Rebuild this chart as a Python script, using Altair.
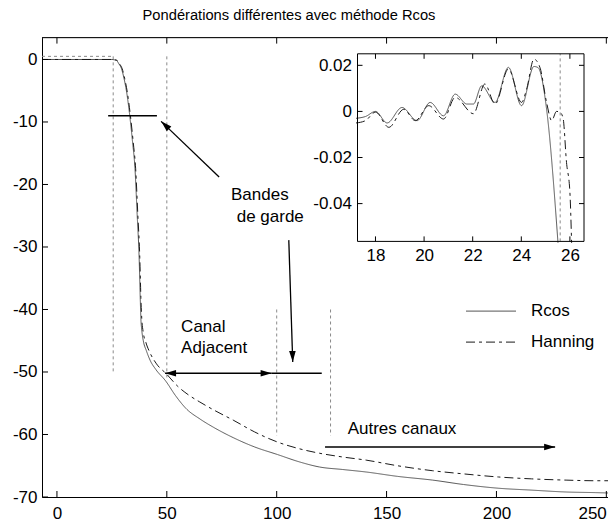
import math
import altair as alt
import pandas as pd

FONT = "Liberation Sans"

series_names = ["Rcos", "Hanning"]

# ---- main curves (dB) ----
rcos_x = [-6.8, 25.0, 26.0, 27.1, 28.2, 29.4, 30.5, 31.7, 33.2, 34.4, 35.5, 36.5, 37.4, 37.9, 38.2,
          38.6, 39.3, 40.7, 42.5, 45.0, 49.4, 54.0, 58.9, 65.0, 72.0, 80.2, 90.0, 100.3, 110.5,
          119.5, 130.0, 140.7, 155.0, 171.0, 185.0, 201.0, 216.0, 231.7, 245.0, 254.4]
rcos_y = [0, 0, -0.05, -0.15, -0.7, -1.5, -3.0, -5.2, -9.2, -13.2, -17.4, -24.8, -31.7, -38.1, -41.5,
          -43.3, -45.0, -46.6, -48.2, -49.6, -51.4, -53.8, -55.9, -57.5, -59.0, -60.5, -62.0, -63.2, -64.4,
          -65.2, -65.6, -66.0, -66.7, -67.3, -68.0, -68.6, -68.9, -69.2, -69.3, -69.4]

hann_x = [-6.8, 25.3, 26.3, 27.4, 28.5, 29.7, 30.8, 32.0, 33.5, 34.7, 35.8, 36.8, 37.7, 38.2, 38.6,
          39.2, 40.5, 42.3, 45.3, 49.8, 55.0, 60.0, 65.0, 72.0, 80.2, 90.0, 100.3, 110.5, 119.5,
          130.0, 140.7, 155.0, 171.0, 185.0, 201.0, 216.0, 231.7, 245.0, 254.4]
hann_y = [0, 0, -0.05, -0.15, -0.7, -1.5, -3.0, -5.2, -9.2, -13.2, -17.4, -24.8, -31.7, -38.1, -41.5,
          -43.5, -45.3, -46.9, -48.7, -50.3, -52.3, -53.7, -54.8, -56.2, -57.7, -59.6, -61.2, -62.3, -63.0,
          -63.6, -64.1, -65.0, -65.8, -66.3, -66.8, -67.1, -67.3, -67.4, -67.4]

# ---- inset curves ----
inset_rcos_x = [17.2, 17.59, 18.0, 18.48, 19.09, 19.71, 20.25, 20.8, 21.28, 21.76, 22.03, 22.37, 22.92,
                23.47, 24.01, 24.52, 24.69, 25.04, 25.51]
inset_rcos_y = [-0.003, -0.0022, 0.0, -0.005, 0.0017, -0.004, 0.0039, -0.0019, 0.0075, 0.0032, 0.0032,
                0.0111, 0.0039, 0.0191, 0.0025, 0.0195, 0.019, 0.001, -0.057]
inset_hann_x = [17.2, 17.59, 18.0, 18.55, 19.16, 19.64, 20.19, 20.8, 21.28, 22.03, 22.5, 22.92, 23.47,
                24.01, 24.22, 24.52, 24.77, 25.04, 25.25, 25.45, 25.59, 25.72, 25.86, 26.0, 26.07]
inset_hann_y = [-0.005, -0.004, -0.0003, -0.0069, 0.0009, -0.004, 0.0025, -0.0033, 0.0061, -0.001, 0.0119,
                0.0032, 0.0184, 0.0039, 0.0097, 0.0227, 0.019, 0.0039, -0.004, 0.0, -0.0003, -0.003,
                -0.0221, -0.0351, -0.057]

x_ticks = [0, 50, 100, 150, 200, 250]
y_ticks = [0, -10, -20, -30, -40, -50, -60, -70]
inset_x_ticks = [18, 20, 22, 24, 26]
inset_y_ticks = [0.02, 0, -0.02, -0.04]

# template (gabarit) dashed segments
guide_x1 = [-6.8, 25.6, 50.0, 100.0, 124.5]
guide_y1 = [0.5, 0.5, 0.5, -40.0, -40.0]
guide_x2 = [25.6, 25.6, 50.0, 100.0, 124.5]
guide_y2 = [0.5, -50.2, -51.0, -60.2, -60.2]
inset_guide_x = [25.6]

# annotation segments
ann_x1 = [23.3, 73.8, 105.5, 49.2, 97.7, 122.0]
ann_y1 = [-9.0, -18.8, -28.9, -50.2, -50.2, -62.0]
ann_x2 = [45.5, 47.4, 107.3, 97.7, 120.5, 226.7]
ann_y2 = [-9.0, -9.9, -48.4, -50.2, -50.2, -62.0]

arrow_tip_x = [47.4, 107.3, 49.2, 97.7, 226.7]
arrow_tip_y = [-9.9, -48.4, -50.2, -50.2, -62.0]
arrow_tail_x = [73.8, 105.5, 97.7, 49.2, 122.0]
arrow_tail_y = [-18.8, -28.9, -50.2, -50.2, -62.0]

label_text = ["Bandes", "de garde", "Canal", "Adjacent", "Autres canaux"]
label_x = [79.2, 81.8, 56.5, 56.5, 132.3]
label_y = [-21.7, -25.2, -42.8, -46.2, -59.2]

title_text = "Pondérations différentes avec méthode Rcos"

# ---- layout ----
W, H = 566, 459.4
X_DOM = [-6.8, 250.76]
Y_DOM = [-70, 3.5]
IX_DOM = [17.26, 26.58]
IY_DOM = [-0.0564, 0.025]
IX_RANGE = [315.5, 542.0]
IY_RANGE = [203.8, 16.2]

sx = W / (X_DOM[1] - X_DOM[0])
sy = H / (Y_DOM[1] - Y_DOM[0])
isx = (IX_RANGE[1] - IX_RANGE[0]) / (IX_DOM[1] - IX_DOM[0])
isy = (IY_RANGE[0] - IY_RANGE[1]) / (IY_DOM[1] - IY_DOM[0])

xs = alt.Scale(domain=X_DOM, nice=False, zero=False)
ys = alt.Scale(domain=Y_DOM, nice=False, zero=False)
ixs = alt.Scale(domain=IX_DOM, range=IX_RANGE, nice=False, zero=False)
iys = alt.Scale(domain=IY_DOM, range=IY_RANGE, nice=False, zero=False)

color_scale = alt.Scale(domain=series_names, range=["#555555", "#1a1a1a"])
dash_scale = alt.Scale(domain=series_names, range=[[1, 0], [9, 4, 3, 4]])

legend = alt.Legend(orient="none", legendX=436, legendY=260.5, title=None,
                    symbolType="M-2,0H2", symbolSize=625, symbolStrokeWidth=1,
                    labelFont=FONT, labelFontSize=17, labelColor="black",
                    labelOffset=27, rowPadding=10, padding=0)

# ---- data frames ----
df_main = pd.concat([
    pd.DataFrame({"x": rcos_x, "y": rcos_y, "series": "Rcos"}),
    pd.DataFrame({"x": hann_x, "y": hann_y, "series": "Hanning"}),
])
df_inset = pd.concat([
    pd.DataFrame({"x": inset_rcos_x, "y": inset_rcos_y, "series": "Rcos"}),
    pd.DataFrame({"x": inset_hann_x, "y": inset_hann_y, "series": "Hanning"}),
])
df_guides = pd.DataFrame({"x": guide_x1, "y": guide_y1, "x2": guide_x2, "y2": guide_y2})
df_ann = pd.DataFrame({"x": ann_x1, "y": ann_y1, "x2": ann_x2, "y2": ann_y2})

angles = []
for tx, ty, fx, fy in zip(arrow_tip_x, arrow_tip_y, arrow_tail_x, arrow_tail_y):
    dxp = (tx - fx) * sx
    dyp = -(ty - fy) * sy
    angles.append(math.degrees(math.atan2(dxp, -dyp)) % 360)
df_arrows = pd.DataFrame({"x": arrow_tip_x, "y": arrow_tip_y, "angle": angles})
df_labels = pd.DataFrame({"x": label_x, "y": label_y, "text": label_text})

# main frame: ticks (inward) + top edge
tlx, tly = 6 / sx, 6 / sy
frame_rows = []
for v in x_ticks:
    frame_rows.append({"x": v, "x2": v, "y": Y_DOM[0], "y2": Y_DOM[0] + tly})
    frame_rows.append({"x": v, "x2": v, "y": Y_DOM[1], "y2": Y_DOM[1] - tly})
for v in y_ticks:
    frame_rows.append({"x": X_DOM[0], "x2": X_DOM[0] + tlx, "y": v, "y2": v})
frame_rows.append({"x": X_DOM[0], "x2": X_DOM[1], "y": Y_DOM[1], "y2": Y_DOM[1]})
df_frame = pd.DataFrame(frame_rows)

# inset ticks (inward on all four sides)
itx, ity = 5 / isx, 5 / isy
iframe_rows = []
for v in inset_x_ticks:
    iframe_rows.append({"x": v, "x2": v, "y": IY_DOM[0], "y2": IY_DOM[0] + ity})
    iframe_rows.append({"x": v, "x2": v, "y": IY_DOM[1], "y2": IY_DOM[1] - ity})
for v in inset_y_ticks:
    iframe_rows.append({"x": IX_DOM[0], "x2": IX_DOM[0] + itx, "y": v, "y2": v})
    iframe_rows.append({"x": IX_DOM[1], "x2": IX_DOM[1] - itx, "y": v, "y2": v})
df_iframe = pd.DataFrame(iframe_rows)
df_ibox = pd.DataFrame({"x": [IX_DOM[0]], "x2": [IX_DOM[1]], "y": [IY_DOM[0]], "y2": [IY_DOM[1]]})
df_iguide = pd.DataFrame({"x": inset_guide_x, "y": [IY_DOM[0]], "y2": [IY_DOM[1]]})


def MX(axis=None):
    return alt.X("x:Q", scale=xs, axis=axis, title=None)


def MY(axis=None):
    return alt.Y("y:Q", scale=ys, axis=axis, title=None)


def IX(axis=None):
    return alt.X("x:Q", scale=ixs, axis=axis, title=None)


def IY(axis=None):
    return alt.Y("y:Q", scale=iys, axis=axis, title=None)


main_xaxis = alt.Axis(orient="bottom", values=x_ticks, ticks=False, grid=False, domainColor="black",
                      labelFont=FONT, labelFontSize=17, labelColor="black", labelPadding=8,
                      labelFlush=3)
main_yaxis = alt.Axis(orient="left", values=y_ticks, ticks=False, grid=False, domainColor="black",
                      labelFont=FONT, labelFontSize=17, labelColor="black", labelPadding=5,
                      labelExpr="'' + datum.value")

main_lines = alt.Chart(df_main).mark_line(strokeWidth=1, clip=True, interpolate="monotone").encode(
    x=MX(main_xaxis), y=MY(main_yaxis),
    color=alt.Color("series:N", scale=color_scale, legend=legend),
    strokeDash=alt.StrokeDash("series:N", scale=dash_scale, legend=legend),
)
guides = alt.Chart(df_guides).mark_rule(color="#8a8a8a", strokeWidth=1, strokeDash=[3, 3]).encode(
    x=MX(), y=MY(), x2="x2:Q", y2="y2:Q")
ann = alt.Chart(df_ann).mark_rule(color="black", strokeWidth=1.3).encode(
    x=MX(), y=MY(), x2="x2:Q", y2="y2:Q")
heads = alt.Chart(df_arrows).mark_point(shape="M0,0L-0.6,2L0.6,2Z", size=121, filled=True,
                                        color="black", opacity=1, strokeWidth=0).encode(
    x=MX(), y=MY(), angle=alt.Angle("angle:Q", scale=None))
labels = alt.Chart(df_labels).mark_text(align="left", baseline="middle", font=FONT, fontSize=17,
                                        color="black").encode(x=MX(), y=MY(), text="text:N")
frame = alt.Chart(df_frame).mark_rule(color="black", strokeWidth=1).encode(
    x=MX(), y=MY(), x2="x2:Q", y2="y2:Q")

inset_xaxis = alt.Axis(orient="bottom", offset=IY_RANGE[0] - H, values=inset_x_ticks, ticks=False,
                       domain=False, grid=False, labelFont=FONT, labelFontSize=17, labelColor="black",
                       labelPadding=6)
inset_yaxis = alt.Axis(orient="left", offset=-IX_RANGE[0], values=inset_y_ticks, ticks=False,
                       domain=False, grid=False, labelFont=FONT, labelFontSize=17, labelColor="black",
                       labelPadding=6, labelExpr="'' + datum.value")

ibox = alt.Chart(df_ibox).mark_rect(fill="white", fillOpacity=0, stroke="black", strokeWidth=1).encode(
    x=IX(), y=IY(), x2="x2:Q", y2="y2:Q")
iguide = alt.Chart(df_iguide).mark_rule(color="#8a8a8a", strokeWidth=1, strokeDash=[3, 3]).encode(
    x=IX(), y=IY(), y2="y2:Q")
ilines = alt.Chart(df_inset).mark_line(strokeWidth=1, clip=True, interpolate="monotone").encode(
    x=IX(inset_xaxis), y=IY(inset_yaxis),
    color=alt.Color("series:N", scale=color_scale, legend=None),
    strokeDash=alt.StrokeDash("series:N", scale=dash_scale, legend=None),
)
iframe = alt.Chart(df_iframe).mark_rule(color="black", strokeWidth=1).encode(
    x=IX(), y=IY(), x2="x2:Q", y2="y2:Q")

chart = alt.layer(
    guides, main_lines, ann, heads, labels, frame,
    iguide, ilines, ibox, iframe,
).resolve_scale(x="independent", y="independent").properties(
    width=W, height=H,
    title=alt.Title(title_text, font=FONT, fontSize=14.7, fontWeight="normal", color="black",
                    anchor="middle", dx=-36, offset=14),
    padding={"left": 34, "top": 29.6, "right": 0, "bottom": 26},
    autosize=alt.AutoSizeParams(type="none"),
).configure_view(strokeWidth=0).configure(background="white")

chart.save("out.html", embed_options={"renderer": "svg", "actions": False})
